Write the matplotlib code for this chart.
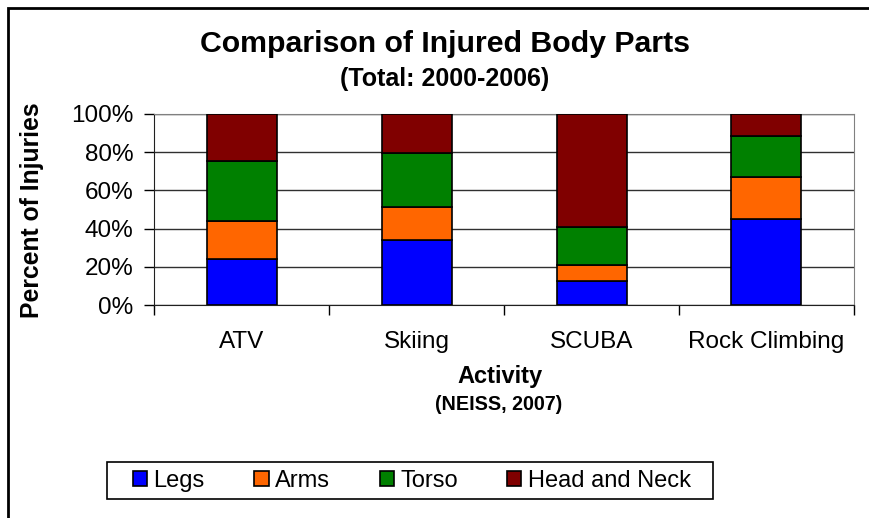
import numpy as np
import matplotlib.pyplot as plt
from matplotlib.patches import Rectangle
from matplotlib.ticker import PercentFormatter

plt.rcParams['font.family'] = ['Liberation Sans', 'DejaVu Sans']

activities = ['ATV', 'Skiing', 'SCUBA', 'Rock Climbing']
legs = [24.3, 34.0, 12.8, 45.0]
arms = [19.8, 17.5, 8.2, 22.1]
torso = [31.2, 28.0, 19.8, 21.3]
head_neck = [24.7, 20.5, 59.2, 11.6]

parts = ['Legs', 'Arms', 'Torso', 'Head and Neck']
colors = ['#0000FF', '#FF6600', '#008000', '#800000']

W, H = 870, 518
fig = plt.figure(figsize=(W / 100, H / 100), dpi=100)
ax = fig.add_axes([154 / W, 1 - 305 / H, 700 / W, 191 / H])

# outer chart border (only top and left edges fall inside the image)
fig.patches.append(Rectangle((8 / W, -0.1), 1.2, 1 - 8 / H + 0.1,
                             transform=fig.transFigure, fill=False,
                             edgecolor='black', linewidth=2))

x = np.arange(len(activities))
bottom = np.zeros(len(activities))
for name, vals, c in zip(parts, [legs, arms, torso, head_neck], colors):
    ax.bar(x, vals, width=0.4, bottom=bottom, color=c, edgecolor='black',
           linewidth=1.2, label=name, zorder=3)
    bottom += np.array(vals)

ax.set_xlim(-0.5, 3.5)
ax.set_ylim(0, 100)
ax.set_yticks(range(0, 101, 20))
ax.yaxis.set_major_formatter(PercentFormatter(decimals=0))
ax.set_xticks(x)
ax.set_xticklabels(activities, fontsize=17.5)
ax.tick_params(axis='x', length=0, pad=19)
ax.set_xticks(np.arange(-0.5, 4, 1), minor=True)
ax.tick_params(axis='x', which='minor', length=7, width=1, direction='out')
ax.tick_params(axis='y', labelsize=17.5, length=7, width=1, direction='out', pad=8)
ax.grid(axis='y', color='#303030', linewidth=1, zorder=0)

for side in ['top', 'right']:
    ax.spines[side].set_color('#808080')
for side in ['left', 'bottom']:
    ax.spines[side].set_color('#202020')

fig.text(32 / W, 1 - 210 / H, 'Percent of Injuries', rotation=90,
         ha='center', va='center', fontsize=17.8, fontweight='bold')
fig.text(445 / W, 1 - 44 / H, 'Comparison of Injured Body Parts',
         ha='center', va='center', fontsize=21.8, fontweight='bold')
fig.text(445 / W, 1 - 79 / H, '(Total: 2000-2006)',
         ha='center', va='center', fontsize=18, fontweight='bold')
fig.text(500 / W, 1 - 376 / H, 'Activity',
         ha='center', va='center', fontsize=17, fontweight='bold')
fig.text(499 / W, 1 - 405 / H, '(NEISS, 2007)',
         ha='center', va='center', fontsize=14.2, fontweight='bold')

# legend entries without their own frame; the box is drawn separately
leg = fig.legend(loc='center left', bbox_to_anchor=(133 / W, 1 - 481 / H),
                 ncol=4, fontsize=17, frameon=False,
                 handlelength=0.6, handleheight=0.6, columnspacing=2.1,
                 handletextpad=0.27, borderpad=0, borderaxespad=0)
fig.patches.append(Rectangle((107 / W, 1 - 499 / H), 606 / W, 37 / H,
                             transform=fig.transFigure, fill=False,
                             edgecolor='black', linewidth=1.2))

fig.savefig('out.png', dpi=100)
